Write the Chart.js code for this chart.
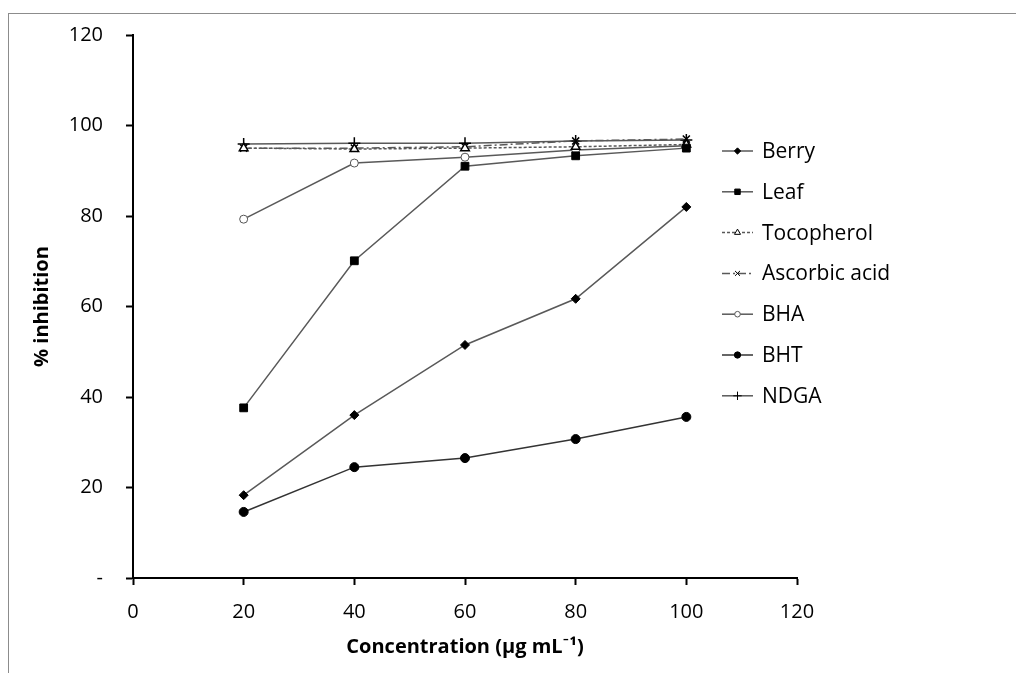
<!DOCTYPE html>
<html>
<head>
<meta charset="utf-8">
<script src="https://cdn.jsdelivr.net/npm/chart.js@4/dist/chart.umd.min.js"></script>
<style>
  body { margin: 0; background: #fff; }
  #wrap { position: relative; width: 1016px; height: 673px; }
  #frame { position: absolute; left: 8px; top: 13px; right: 0; bottom: 0;
           border-top: 1px solid #8c8c8c; border-left: 1px solid #8c8c8c; pointer-events: none; }
</style>
</head>
<body>
<div id="wrap">
  <canvas id="chart" width="1016" height="673"></canvas>
  <div id="frame"></div>
</div>
<script>
const concentrations = [20, 40, 60, 80, 100];
const berry = [18.3, 36.0, 51.5, 61.7, 82.0];
const leaf = [37.6, 70.1, 91.0, 93.3, 95.0];
const tocopherol = [95.0, 94.8, 95.0, 95.3, 95.8];
const ascorbicAcid = [95.0, 95.0, 95.3, 96.6, 97.0];
const bha = [79.3, 91.7, 93.0, 94.6, 95.5];
const bht = [14.6, 24.5, 26.5, 30.7, 35.6];
const ndga = [95.9, 96.1, 96.1, 96.6, 96.8];

const FONT = '"Open Sans", Lato, sans-serif';
const LINE = '#595959';

const pts = arr => arr.map((v, i) => ({ x: concentrations[i], y: v }));

function series(label, values, style, opts) {
  return Object.assign({
    label,
    data: pts(values),
    borderColor: LINE,
    borderWidth: 1.5,
    pointStyle: style,
    pointRadius: 4,
    pointBorderColor: '#000',
    pointBackgroundColor: '#000',
    pointBorderWidth: 1,
    tension: 0
  }, opts || {});
}

const datasets = [
  series('Berry', berry, 'rectRot', { pointRadius: 4.5 }),
  series('Leaf', leaf, 'rect', { pointRadius: 5.5 }),
  series('Tocopherol', tocopherol, 'triangle', { borderDash: [3, 2], pointRadius: 5, pointBackgroundColor: '#fff', pointBorderWidth: 1.5 }),
  series('Ascorbic acid', ascorbicAcid, 'crossRot', { borderDash: [8, 3, 2, 3], pointRadius: 5, pointBorderWidth: 1.5 }),
  series('BHA', bha, 'circle', { pointRadius: 4, pointBackgroundColor: '#fff', pointBorderColor: '#555' }),
  series('BHT', bht, 'circle', { pointRadius: 4.5, borderColor: '#333' }),
  series('NDGA', ndga, 'cross', { pointRadius: 6, pointBorderWidth: 1.5 })
];

// legend sits inside the plot on the right, like the Excel original
const sideLegend = {
  id: 'sideLegend',
  afterDraw(chart) {
    const ctx = chart.ctx;
    chart.data.datasets.forEach((ds, i) => {
      const y = 151 + i * 40.8;
      ctx.save();
      ctx.strokeStyle = ds.borderColor;
      ctx.lineWidth = 1.5;
      ctx.setLineDash(ds.borderDash || []);
      ctx.beginPath();
      ctx.moveTo(722, y);
      ctx.lineTo(753, y);
      ctx.stroke();
      ctx.setLineDash([]);
      ctx.fillStyle = ds.pointBackgroundColor;
      ctx.strokeStyle = ds.pointBorderColor;
      ctx.lineWidth = 1;
      Chart.helpers.drawPoint(ctx, { pointStyle: ds.pointStyle, radius: ds.pointRadius * 0.7, rotation: 0, borderWidth: 1 }, 737.5, y);
      ctx.fillStyle = '#000';
      ctx.font = '21px ' + FONT;
      ctx.textBaseline = 'middle';
      ctx.textAlign = 'left';
      ctx.fillText(ds.label, 762, y + 1);
      ctx.restore();
    });
  }
};

new Chart(document.getElementById('chart'), {
  type: 'line',
  data: { datasets },
  plugins: [sideLegend],
  options: {
    responsive: false,
    animation: false,
    layout: { padding: { left: 0, top: 35, right: 219, bottom: 0 } },
    plugins: { legend: { display: false }, tooltip: { enabled: false } },
    scales: {
      x: {
        type: 'linear', min: 0, max: 120,
        ticks: { stepSize: 20, color: '#000', padding: 15, font: { family: FONT, size: 20 } },
        grid: { drawOnChartArea: false, tickLength: 7, tickColor: '#000', tickWidth: 2 },
        border: { color: '#000', width: 2 },
        title: { display: true, text: 'Concentration (μg mL⁻¹)', color: '#000',
                 font: { family: FONT, size: 20, weight: 'bold' }, padding: { top: 0, bottom: 14 } },
        afterFit: s => { s.height = 95; }
      },
      y: {
        min: 0, max: 120,
        ticks: { stepSize: 20, color: '#000', padding: 23, font: { family: FONT, size: 20 },
                 callback: v => v === 0 ? '-' : v },
        grid: { drawOnChartArea: false, tickLength: 7, tickColor: '#000', tickWidth: 2 },
        border: { color: '#000', width: 2 },
        title: { display: true, text: '% inhibition', color: '#000',
                 font: { family: FONT, size: 20, weight: 'bold' }, padding: { top: 30, bottom: 0 } },
        afterFit: s => { s.width = 133; }
      }
    }
  }
});
</script>
</body>
</html>
